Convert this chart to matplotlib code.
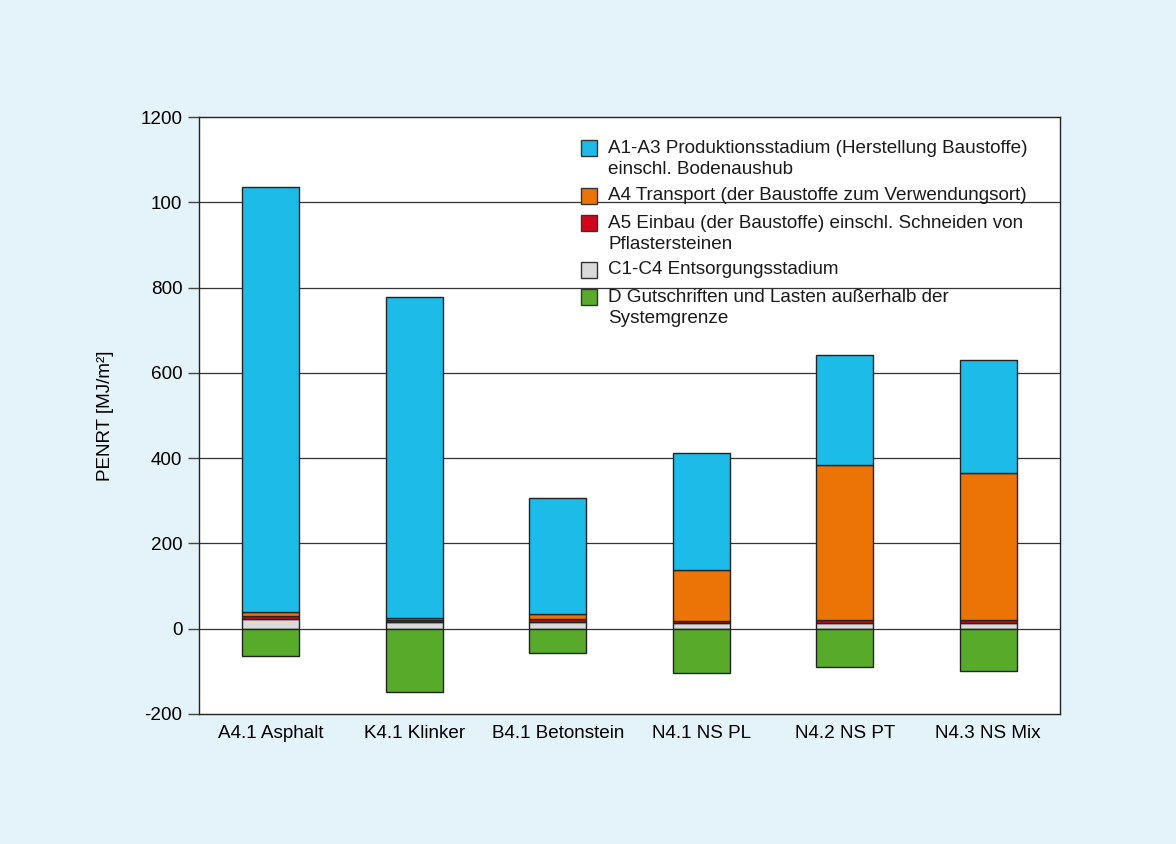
import matplotlib
matplotlib.use("Agg")
import matplotlib.pyplot as plt
from matplotlib.patches import Rectangle
import numpy as np

plt.rcParams['font.family'] = ['Liberation Sans', 'DejaVu Sans']

categories = ["A4.1 Asphalt", "K4.1 Klinker", "B4.1 Betonstein", "N4.1 NS PL", "N4.2 NS PT", "N4.3 NS Mix"]
c1_c4 = [23, 16, 16, 13, 13, 13]
a5 = [6, 4, 7, 6, 7, 7]
a4 = [10, 5, 12, 119, 363, 344]
a1_a3 = [998, 752, 272, 275, 260, 267]
d = [-64, -148, -57, -103, -90, -99]

yticks = [-200, 0, 200, 400, 600, 800, 1000, 1200]
yticklabels = ["-200", "0", "200", "400", "600", "800", "100", "1200"]

labels = [
    "A1-A3 Produktionsstadium (Herstellung Baustoffe)\neinschl. Bodenaushub",
    "A4 Transport (der Baustoffe zum Verwendungsort)",
    "A5 Einbau (der Baustoffe) einschl. Schneiden von\nPflastersteinen",
    "C1-C4 Entsorgungsstadium",
    "D Gutschriften und Lasten außerhalb der\nSystemgrenze",
]
colors = ["#1DBBE8", "#EC7406", "#D0051E", "#DADADA", "#58AA2A"]

bg = "#E4F2FA"
fs = 13.6
W, H = 1176, 844
fig = plt.figure(figsize=(W / 100, H / 100), dpi=100, facecolor=bg)
ax_l, ax_b, ax_w, ax_h = 199, 130, 861, 597  # pixels (bottom measured from figure bottom)
ax = fig.add_axes([ax_l / W, ax_b / H, ax_w / W, ax_h / H])
ax.set_facecolor("white")

x = np.arange(len(categories))
w = 0.4
ekw = dict(edgecolor="#222222", linewidth=1.0, width=w, zorder=3)
b = np.zeros(len(categories))
ax.bar(x, c1_c4, bottom=b, color=colors[3], **ekw)
b = b + np.array(c1_c4)
ax.bar(x, a5, bottom=b, color=colors[2], **ekw)
b = b + np.array(a5)
ax.bar(x, a4, bottom=b, color=colors[1], **ekw)
b = b + np.array(a4)
ax.bar(x, a1_a3, bottom=b, color=colors[0], **ekw)
ax.bar(x, d, bottom=0, color=colors[4], **ekw)

ax.set_xlim(-0.5, len(categories) - 0.5)
ax.set_ylim(-200, 1200)
ax.set_yticks(yticks)
ax.set_yticklabels(yticklabels, fontsize=fs)
ax.set_xticks(x)
ax.set_xticklabels(categories, fontsize=fs)
ax.tick_params(axis="x", length=0, pad=8)
ax.tick_params(axis="y", length=8, width=1, color="#444444", pad=4)
for yv in yticks[1:-1]:
    ax.axhline(yv, color="#333333", linewidth=0.9, zorder=1)
for s in ax.spines.values():
    s.set_linewidth(1.0)
    s.set_color("#222222")

ax.set_ylabel("PENRT [MJ/m²]", fontsize=fs, labelpad=19)

# manual legend (handles aligned with first line of each label)
top_px = 117
first_line_px = [148, 196, 223, 270, 297]
line_gap = 22
hx0, hsize, tx0 = 581, 16, 608
for lab, col, yp in zip(labels, colors, first_line_px):
    nlines = lab.count("\n") + 1
    yc = 1 - (yp - top_px) / ax_h
    hs_w = hsize / ax_w
    hs_h = hsize / ax_h
    ax.add_patch(Rectangle(((hx0 - ax_l) / ax_w, yc - hs_h / 2), hs_w, hs_h,
                           transform=ax.transAxes, facecolor=col,
                           edgecolor="#333333", linewidth=1.0, zorder=5, clip_on=False))
    ytext = 1 - (yp + (nlines - 1) * line_gap / 2 - top_px) / ax_h
    ax.text((tx0 - ax_l) / ax_w, ytext, lab, transform=ax.transAxes,
            fontsize=fs, va="center", ha="left", linespacing=1.38, zorder=5,
            color="#1a1a1a")

fig.savefig("out.png", dpi=100, facecolor=bg)
